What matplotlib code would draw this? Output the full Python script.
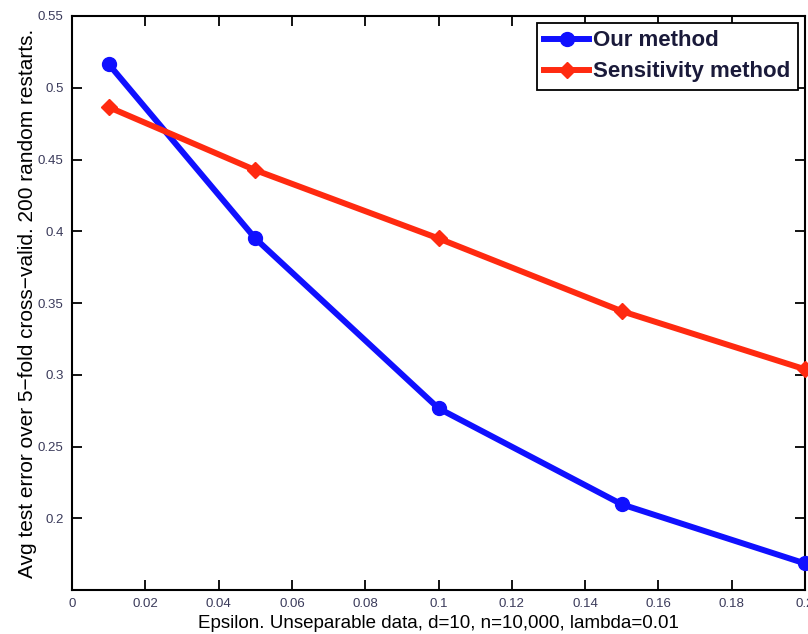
import matplotlib.pyplot as plt
import numpy as np

plt.rcParams['font.family'] = ['Liberation Sans', 'DejaVu Sans']

# data
eps = [0.01, 0.05, 0.1, 0.15, 0.2]
ours = [0.5165, 0.395, 0.2766, 0.2097, 0.1685]
sens = [0.4865, 0.4426, 0.395, 0.3443, 0.3038]

xticks = [0, 0.02, 0.04, 0.06, 0.08, 0.1, 0.12, 0.14, 0.16, 0.18, 0.2]
xticklabels = ['0', '0.02', '0.04', '0.06', '0.08', '0.1', '0.12', '0.14', '0.16', '0.18', '0.2']
yticks = [0.2, 0.25, 0.3, 0.35, 0.4, 0.45, 0.5, 0.55]
yticklabels = ['0.2', '0.25', '0.3', '0.35', '0.4', '0.45', '0.5', '0.55']

fig = plt.figure(figsize=(8.08, 6.34), dpi=100)
ax = fig.add_axes([72 / 808, 1 - 590 / 634, (805 - 72) / 808, (590 - 16) / 634])

ax.plot(eps, ours, color='#1010ff', lw=4.3, marker='o', ms=10, label='Our method', clip_on=False, zorder=3)
ax.plot(eps, sens, color='#ff2a10', lw=4.3, marker='D', ms=8, label='Sensitivity method', clip_on=False, zorder=3)

ax.set_xlim(0, 0.2)
ax.set_ylim(0.15, 0.55)
ax.set_xticks(xticks)
ax.set_xticklabels(xticklabels)
ax.set_yticks(yticks)
ax.set_yticklabels(yticklabels)
ax.tick_params(direction='in', top=True, right=True, length=7, width=1.3, labelsize=9.5, labelcolor='#3a3a5a', pad=6)
for s in ax.spines.values():
    s.set_linewidth(1.5)

ax.set_xlabel('Epsilon. Unseparable data, d=10, n=10,000, lambda=0.01', fontsize=13.5, labelpad=3)
ax.set_ylabel('Avg test error over 5\u2212fold cross\u2212valid. 200 random restarts.', fontsize=15, labelpad=1)

leg = ax.legend(loc='upper right', fontsize=16, fancybox=False, edgecolor='black', framealpha=1,
                handlelength=2.0, borderaxespad=0.3, borderpad=0.35, labelspacing=0.45, handletextpad=0.2)
leg.get_frame().set_linewidth(1.3)
for t in leg.get_texts():
    t.set_fontweight('bold')
    t.set_color('#1a1a3a')

fig.savefig('out.png', dpi=100)
